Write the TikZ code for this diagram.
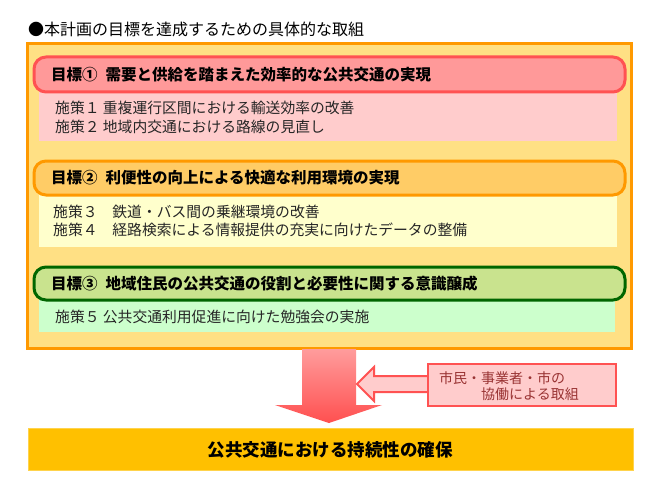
\documentclass[tikz,border=0pt]{standalone}
\usepackage{fontspec}
\setmainfont{Noto Sans CJK JP}
\usetikzlibrary{shapes.geometric}
\definecolor{outerfill}{HTML}{FFE084}
\definecolor{outerline}{HTML}{FF9900}
\definecolor{hOneFill}{HTML}{FF9999}
\definecolor{hOneLine}{HTML}{FF5252}
\definecolor{pOneFill}{HTML}{FFCCCC}
\definecolor{hTwoFill}{HTML}{FFCC66}
\definecolor{hTwoLine}{HTML}{FF9900}
\definecolor{pTwoFill}{HTML}{FFFFCC}
\definecolor{hThreeFill}{HTML}{C9E38E}
\definecolor{hThreeLine}{HTML}{006600}
\definecolor{pThreeFill}{HTML}{CCFFCC}
\definecolor{goalFill}{HTML}{FFC000}
\definecolor{arrTop}{HTML}{FF9C9C}
\definecolor{arrBot}{HTML}{FF5050}
\definecolor{collabText}{HTML}{993333}
\tikzset{
  headbox/.style={rounded corners=12pt, line width=3pt},
  headtext/.style={anchor=west, inner sep=0pt, font=\fontsize{15.5}{18}\selectfont\bfseries},
  poltext/.style={anchor=west, inner sep=0pt, font=\fontsize{14.8}{18.5}\selectfont, text=black!85},
}
\begin{document}
\begin{tikzpicture}[x=1pt,y=-1pt]
\useasboundingbox (0,0) rectangle (669,500);
\fill[white] (0,0) rectangle (669,500);
% title
\node[anchor=west, inner sep=0pt, font=\fontsize{16}{18}\selectfont] (title) at (28,29) {●本計画の目標を達成するための具体的な取組};
% outer box
\draw[line width=3pt, draw=outerline, fill=outerfill] (27,44) rectangle (631,348);
% goal 1
\fill[pOneFill] (39,92) rectangle (617,141);
\draw[headbox, draw=hOneLine, fill=hOneFill] (34,57) rectangle (625,92);
\node[headtext] (g1) at (51,75) {目標①\hspace{8pt}需要と供給を踏まえた効率的な公共交通の実現};
\node[poltext] (p1a) at (55,108) {施策１ 重複運行区間における輸送効率の改善};
\node[poltext] (p1b) at (55,127) {施策２ 地域内交通における路線の見直し};
% goal 2
\fill[pTwoFill] (39,195) rectangle (617,247);
\draw[headbox, draw=hTwoLine, fill=hTwoFill] (34,161) rectangle (625,195);
\node[headtext] (g2) at (51,178) {目標②\hspace{8pt}利便性の向上による快適な利用環境の実現};
\node[poltext] (p2a) at (53,212) {施策３　鉄道・バス間の乗継環境の改善};
\node[poltext] (p2b) at (53,230) {施策４　経路検索による情報提供の充実に向けたデータの整備};
% goal 3
\fill[pThreeFill] (39,300) rectangle (615,332);
\draw[headbox, draw=hThreeLine, fill=hThreeFill] (34,267) rectangle (625,300);
\node[headtext] (g3) at (51,284) {目標③\hspace{8pt}地域住民の公共交通の役割と必要性に関する意識醸成};
\node[poltext] (p3a) at (55,317) {施策５ 公共交通利用促進に向けた勉強会の実施};
% down arrow
\shade[top color=arrTop, bottom color=arrBot]
  (302,349) -- (356,349) -- (356,405) -- (382,405) -- (329,423) -- (275,405) -- (302,405) -- cycle;
% collaboration box
\node[draw=hOneLine, fill=pOneFill, line width=2.5pt, minimum width=188pt, minimum height=42pt, inner sep=0pt] (collab) at (522,385) {};
\node[anchor=north west, inner sep=0pt, align=left, text=collabText, font=\fontsize{14}{16}\selectfont] (collabtxt) at (439,371) {市民・事業者・市の\\\hspace{3em}協働による取組};
% left arrow
\draw[draw=hOneLine, fill=pOneFill, line width=2pt, line join=miter]
  (collab.west |- 0,376) -- (374,376) -- (374,367) -- (357,384) -- (374,401) -- (374,392) -- (collab.west |- 0,392);
% bottom goal
\draw[fill=goalFill, draw=goalFill!70!white, line width=1pt] (28,428) rectangle (633,470);
\node[inner sep=0pt, font=\fontsize{17.5}{20}\selectfont\bfseries] (final) at (330,450) {公共交通における持続性の確保};
\end{tikzpicture}
\end{document}
